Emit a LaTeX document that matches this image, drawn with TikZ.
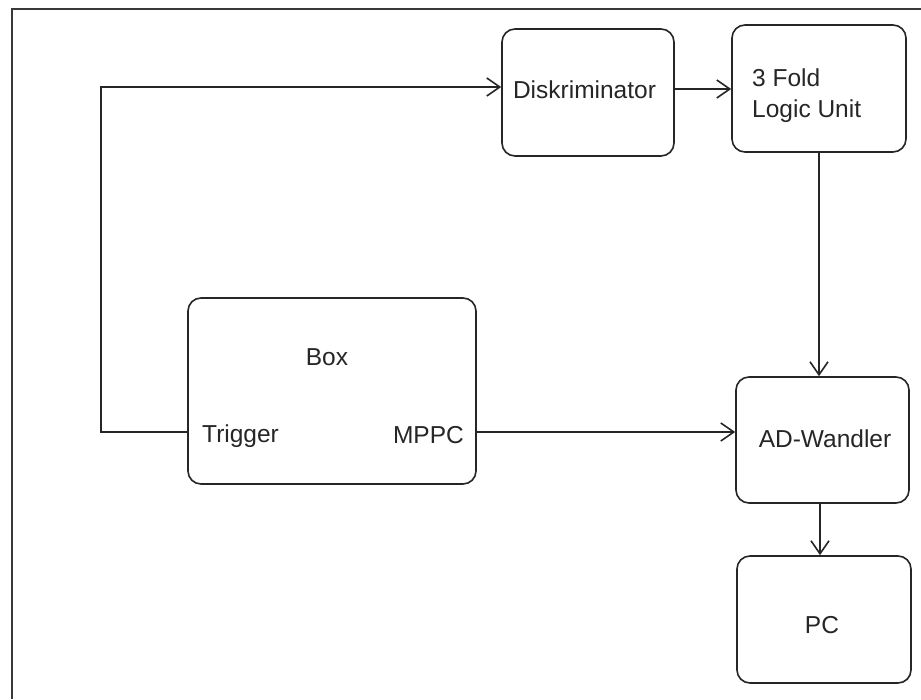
\documentclass[tikz,border=0pt]{standalone}
\usepackage{fontspec}
\setmainfont{Liberation Sans}
\usetikzlibrary{arrows.meta}
\definecolor{ink}{HTML}{262626}
\tikzset{
  blk/.style={draw=ink, line width=1.6pt, rounded corners=13pt, fill=white, inner sep=0pt},
  lbl/.style={text=ink, inner sep=0pt, font=\fontsize{24.5}{31}\selectfont},
  conn/.style={draw=ink, line width=1.6pt},
  arr/.style={conn, -{Straight Barb[length=13pt,width=18pt,line width=1.6pt]}},
  frame/.style={draw=gray!45!black, line width=2.6pt}
}
\begin{document}
\begin{tikzpicture}[x=1pt,y=-1pt]
\useasboundingbox (0,0) rectangle (921,699);
\fill[white] (0,0) rectangle (921,699);
% outer frame (only left and top edges visible)
\draw[frame] (12,699) -- (12,9) -- (921,9);

% blocks
\node[blk, minimum width=172pt, minimum height=127pt] (disk) at (588,92.5) {};
\node[blk, minimum width=174pt, minimum height=127pt] (logic) at (819,88.5) {};
\node[blk, minimum width=288pt, minimum height=186pt] (box) at (332,391) {};
\node[blk, minimum width=173pt, minimum height=126pt] (ad) at (822.5,440) {};
\node[blk, minimum width=174pt, minimum height=127pt] (pc) at (824,619.5) {};

% labels
\node[lbl, anchor=base] (tdisk) at (584.5,98) {Diskriminator};
\node[lbl, anchor=base west] (tlog1) at (752,86) {3 Fold};
\node[lbl, anchor=base west] (tlog2) at (752,117) {Logic Unit};
\node[lbl, anchor=base] (tbox) at (327,365) {Box};
\node[lbl, anchor=base west] (ttrig) at (202,442) {Trigger};
\node[lbl, anchor=base east] (tmppc) at (464,443) {MPPC};
\node[lbl, anchor=base] (tad) at (825,447) {AD-Wandler};
\node[lbl, anchor=base] (tpc) at (822,633) {PC};

% connector helper coordinates
\coordinate (c1) at (101,432);
\coordinate (c2) at (101,87);
\coordinate (c3) at (0,89);
\coordinate (c4) at (819,0);
\coordinate (c5) at (0,432);
\coordinate (c6) at (820,0);

% connectors
\draw[arr] (c1 -| box.west) -- (c1) -- (c2) -- (c2 -| disk.west);
\draw[arr] (c3 -| disk.east) -- (c3 -| logic.west);
\draw[arr] (c4 |- logic.south) -- (c4 |- ad.north);
\draw[arr] (c5 -| box.east) -- (c5 -| ad.west);
\draw[arr] (c6 |- ad.south) -- (c6 |- pc.north);
\end{tikzpicture}
\end{document}
